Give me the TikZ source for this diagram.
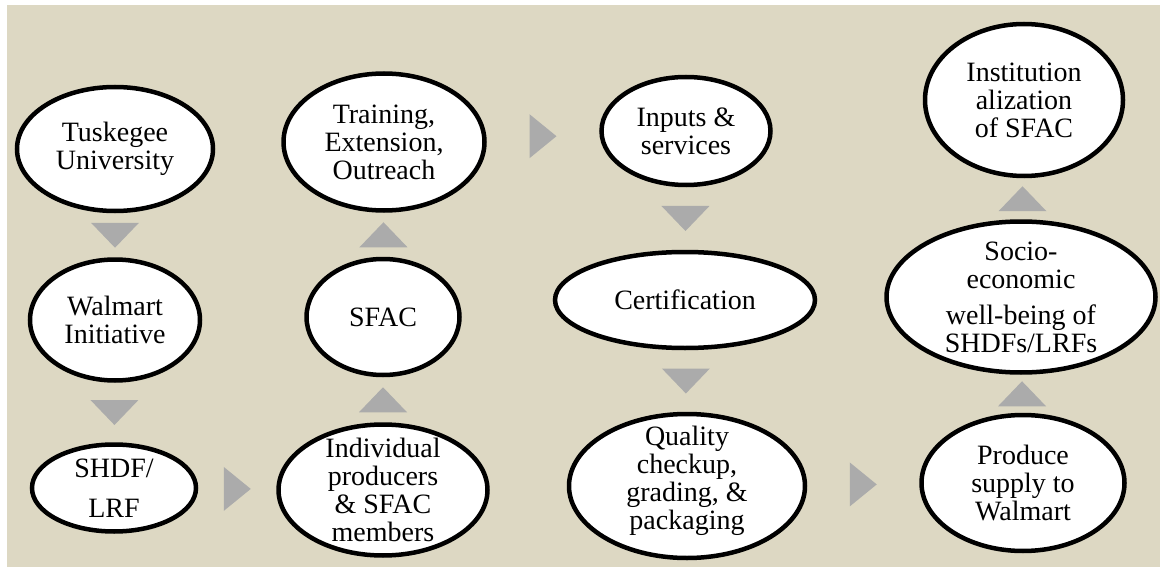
\documentclass[tikz,border=0pt]{standalone}
\usepackage{fontspec}
\setmainfont{Liberation Serif}
\usetikzlibrary{shapes.geometric}

\definecolor{bgbeige}{HTML}{DDD8C3}
\definecolor{arrowgray}{HTML}{ABABAB}

\tikzset{
  stage/.style={ellipse, draw=black, line width=4.5pt, fill=white, inner sep=0pt},
  stagetext/.style={align=center, font=\fontsize{28}{28}\selectfont},
  tridown/.pic={\fill[arrowgray] (-24,-12.5) -- (24,-12.5) -- (0,12.5) -- cycle;},
  triup/.pic={\fill[arrowgray] (-24,12.5) -- (24,12.5) -- (0,-12.5) -- cycle;},
  triright/.pic={\fill[arrowgray] (-13.5,-22) -- (13.5,0) -- (-13.5,22) -- cycle;},
}

\begin{document}
\begin{tikzpicture}[x=1pt,y=-1pt]
	\useasboundingbox (0,0) rectangle (1160,567);
	\fill[bgbeige] (7,5) rectangle (1160,567);

	% first column
	\node[stage, minimum width=196pt, minimum height=124pt] (tus) at (115,149)
		[label={[stagetext]center:Tuskegee\\University}] {};
	\node[stage, minimum width=170pt, minimum height=121pt] (wal) at (115,320)
		[label={[stagetext]center:Walmart\\Initiative}] {};
	\node[stage, minimum width=164pt, minimum height=87pt] (shdf) at (114,488)
		[label={[stagetext]center:SHDF/\\[12pt]LRF}] {};

	% second column
	\node[stage, minimum width=209pt, minimum height=131pt] (indiv) at (383,490)
		[label={[stagetext]center:Individual\\producers\\\& SFAC\\members}] {};
	\node[stage, minimum width=153pt, minimum height=116pt] (sfac) at (383,317)
		[label={[stagetext]center:SFAC}] {};
	\node[stage, minimum width=201pt, minimum height=137pt] (train) at (384,142)
		[label={[stagetext]center:Training,\\Extension,\\Outreach}] {};

	% third column
	\node[stage, minimum width=169pt, minimum height=108pt] (inputs) at (686,131)
		[label={[stagetext]center:Inputs \&\\services}] {};
	\node[stage, minimum width=260pt, minimum height=96pt] (cert) at (685,300)
		[label={[stagetext]center:Certification}] {};
	\node[stage, minimum width=236pt, minimum height=144pt] (quality) at (687,486)
		[label={[stagetext,yshift=5pt]center:Quality\\checkup,\\grading, \&\\packaging}] {};

	% fourth column
	\node[stage, minimum width=203pt, minimum height=136pt] (produce) at (1023,483)
		[label={[stagetext]center:Produce\\supply to\\Walmart}] {};
	\node[stage, minimum width=269pt, minimum height=151pt] (socio) at (1021,297)
		[label={[stagetext]center:Socio-\\economic\\[8pt]well-being of\\SHDFs/LRFs}] {};
	\node[stage, minimum width=198pt, minimum height=152pt] (inst) at (1024,100)
		[label={[stagetext]center:Institution\\alization\\of SFAC}] {};

	% gray triangles between the stages
	\path (tus) -- (wal) coordinate[midway] (a1);
	\path (wal) -- (shdf) coordinate[midway] (a2);
	\path (shdf) -- (indiv) coordinate[midway] (a3);
	\path (indiv) -- (sfac) coordinate[midway] (a4);
	\path (sfac) -- (train) coordinate[midway] (a5);
	\path (train) -- (inputs) coordinate[midway] (a6);
	\path (inputs) -- (cert) coordinate[midway] (a7);
	\path (cert) -- (quality) coordinate[midway] (a8);
	\path (quality) -- (produce) coordinate[midway] (a9);
	\path (produce) -- (socio) coordinate[midway] (a10);
	\path (socio) -- (inst) coordinate[midway] (a11);

	\pic at (a1) {tridown};
	\pic at (a2) {tridown};
	\pic at (a3) {triright};
	\pic at (a4) {triup};
	\pic at (a5) {triup};
	\pic at (a6) {triright};
	\pic at (a7) {tridown};
	\pic at (a8) {tridown};
	\pic at (a9) {triright};
	\pic at (a10) {triup};
	\pic at (a11) {triup};
\end{tikzpicture}
\end{document}
